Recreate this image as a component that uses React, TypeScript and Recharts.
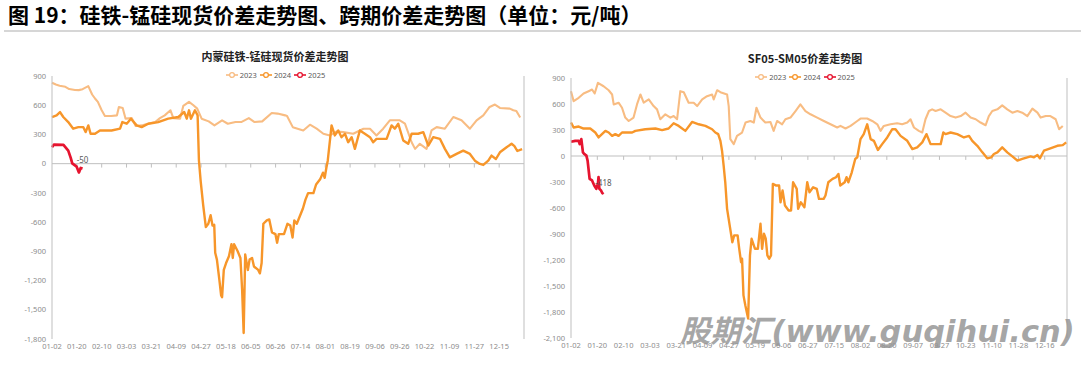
import React from 'react';
import { LineChart, Line, XAxis, YAxis, ReferenceLine, ReferenceDot, Legend } from 'recharts';

// ---------- shared ----------
const seriesNames = ['2023', '2024', '2025'];
const seriesColors = ['#F8BC82', '#F7962A', '#E6142F'];
const seriesWidths = [2.1, 2.4, 2.7];
const tickStep = 13;

// ---------- left: 内蒙硅铁-锰硅现货价差 ----------
const spotTitle = '内蒙硅铁-锰硅现货价差走势图';
const spotTickLabels = ['01-02', '01-20', '02-10', '03-03', '03-21', '04-09', '04-27', '05-18', '06-05', '06-26', '07-14', '08-01', '08-19', '09-06', '09-26', '10-22', '11-09', '11-27', '12-15'];
const spotYTicks = [900, 600, 300, 0, -300, -600, -900, -1200, -1500, -1800];

const spot2023: [number, number][] = [
  [0, 830], [2, 812], [4, 800], [7, 789], [9, 766], [12, 756], [14, 755], [16, 765], [19, 796], [21, 710], [22.5, 669], [24, 634], [26, 548], [27.7, 489], [31, 489], [34, 496], [35, 582], [37, 572], [38.5, 462], [41.7, 468], [43.8, 386], [47, 393], [50, 410], [54, 427], [56.5, 468], [59, 496], [62, 548], [63.5, 468], [67, 462], [68.7, 593], [71.7, 634], [74, 600], [76, 565], [78.3, 462], [82, 434], [85, 393], [89, 445], [92, 410], [96, 427], [99, 427], [103, 468], [106, 427], [110, 434], [115, 520], [118, 514], [122, 496], [123, 489], [126, 375], [131.5, 341], [135, 400], [138.5, 359], [142, 307], [145.4, 290], [149, 331], [152.4, 324], [157.6, 307], [163, 359], [166.4, 359], [169.8, 290], [173.3, 359], [176.8, 445], [182, 445], [184.7, 410], [188.2, 220], [190, 152], [192.5, 204], [196, 152], [198.6, 341], [201.3, 375], [205.6, 359], [210, 479], [214.3, 445], [218.7, 359], [222.2, 445], [225.7, 496], [229, 582], [231.8, 607], [234.4, 572], [239.6, 565], [241.4, 548], [243, 540], [245, 474],
];
const spot2024: [number, number][] = [
  [0, 479], [2.4, 496], [4.2, 530], [5.9, 479], [8.5, 427], [11.1, 359], [13.8, 375], [16.4, 375], [17.6, 324], [19, 393], [20.2, 307], [22.5, 307], [25.1, 341], [31.2, 341], [35.6, 359], [36.8, 427], [39.1, 410], [41.3, 462], [44.3, 393], [46.9, 375], [50.4, 410], [55.6, 427], [60.8, 462], [66.1, 479], [69.2, 530], [70.5, 462], [71.7, 548], [72.7, 462], [74.8, 548], [76.2, 496], [76.9, 30], [77.8, -179], [79.1, -424], [80.5, -651], [81.8, -617], [83, -529], [84, -635], [84.9, -628], [85.4, -915], [86.3, -985], [87.6, -1195], [88.5, -1353], [89, -1371], [89.9, -1091], [91.1, -1020], [92.6, -950], [93.9, -827], [94.6, -968], [95.3, -827], [97.1, -897], [98.6, -968], [99.5, -1300], [100.3, -1739], [101.1, -932], [102.5, -1091], [103.4, -985], [104.7, -968], [105.7, -1056], [107.9, -1091], [108.8, -1126], [109.7, -1020], [110.6, -617], [112.4, -582], [113.7, -572], [115.1, -705], [116.9, -723], [117.8, -811], [118.7, -723], [121.4, -723], [123.2, -617], [124.7, -635], [125.9, -758], [126.8, -582], [128.1, -617], [131.3, -460], [132.6, -372], [134, -302], [136.8, -302], [138.2, -214], [140.3, -161], [141.8, -92], [142.7, -145], [143.6, -39], [144.3, 31], [146.3, 393], [148, 290], [149.8, 341], [151.5, 272], [153.3, 307], [155, 220], [156.8, 272], [158.5, 152], [161.1, 341], [163.7, 307], [166.4, 272], [168.1, 220], [169.8, 255], [175.1, 255], [177.7, 393], [179.4, 359], [181.2, 410], [183.8, 238], [186.4, 204], [188.2, 307], [191.6, 307], [194.3, 324], [196.9, 186], [199.5, 272], [203, 255], [205.6, 152], [208.2, 65], [211.7, 100], [215.2, 134], [218.7, 100], [221.3, 31], [223.9, -3], [225.7, -13], [228.3, 31], [230, 83], [232.3, 48], [234.4, 117], [237.9, 169], [240.5, 204], [242, 180], [243.5, 130], [246, 150],
];
const spot2025: [number, number][] = [
  [0, 169], [1, 196], [6, 193], [8.5, 134], [9.8, 59], [10.6, 3], [12.9, -31], [14.1, -90], [15, -44], [16, -50],
];

// ---------- right: SF05-SM05 价差 ----------
const futTitle = 'SF05-SM05价差走势图';
const futTickLabels = ['01-02', '01-20', '02-10', '03-03', '03-21', '04-09', '04-27', '05-19', '06-06', '06-27', '07-15', '08-02', '08-20', '09-07', '09-27', '10-23', '11-10', '11-28', '12-16'];
const futYTicks = [900, 600, 300, 0, -300, -600, -900, -1200, -1500, -1800, -2100];

const fut2023: [number, number][] = [
  [0, 748], [1.3, 633], [3.8, 672], [6.2, 721], [8.7, 748], [10.4, 767], [11.7, 721], [13.3, 844], [16.1, 805], [18.6, 759], [20.3, 710], [21.1, 595], [23.5, 615], [25.2, 557], [26.8, 443], [28.5, 404], [30.9, 443], [32.6, 595], [34.3, 710], [35.9, 615], [38.4, 653], [40.8, 576], [42.5, 538], [44.1, 424], [46.6, 481], [49.1, 443], [50.7, 461], [52.4, 424], [54, 748], [55.7, 736], [58.1, 615], [60.6, 615], [62.3, 576], [64.8, 653], [67.2, 690], [69.7, 710], [70.5, 653], [72.2, 759], [73.8, 736], [77.1, 710], [77.9, 576], [78.7, 195], [80.4, 137], [82, 232], [84.5, 271], [86.2, 386], [88.6, 404], [90.3, 386], [91.6, 557], [93.6, 443], [96, 386], [98.5, 393], [100.1, 290], [101.8, 404], [104.3, 366], [105.9, 424], [108.4, 443], [110.9, 519], [113.3, 595], [115.8, 519], [118.3, 481], [121.6, 443], [124.9, 404], [128.2, 366], [131.5, 329], [133.1, 347], [135.6, 317], [138.1, 347], [141.4, 404], [143, 432], [146.3, 432], [148.8, 404], [151.3, 366], [152.9, 290], [154.5, 347], [157.8, 366], [161.1, 378], [163.6, 366], [166.1, 386], [167.7, 424], [169.4, 329], [171.8, 290], [173.5, 271], [175.1, 424], [176.8, 519], [178.4, 538], [180.1, 519], [182.6, 538], [185, 500], [187.5, 461], [190, 443], [192.5, 461], [194.9, 500], [197.4, 443], [199.9, 424], [202.3, 386], [204.8, 355], [206.4, 461], [208.1, 519], [210.6, 538], [213, 584], [215.5, 538], [218, 500], [220.5, 519], [222.9, 500], [225.4, 461], [227.9, 546], [230.4, 500], [232, 443], [234.5, 461], [236.8, 461], [239.4, 424], [241.1, 309], [242.9, 347],
];
const fut2024: [number, number][] = [
  [0, 386], [1.3, 329], [3.8, 340], [6.2, 317], [9.5, 317], [12, 271], [13.6, 214], [15.3, 252], [17, 290], [18.6, 271], [20.3, 232], [21.9, 252], [23.5, 232], [25.2, 271], [30.2, 271], [31.8, 290], [36.7, 309], [41.7, 317], [45, 298], [48.2, 317], [50.7, 378], [53.2, 347], [56.5, 290], [59.8, 393], [63.1, 366], [66.4, 347], [69.7, 309], [71.3, 271], [72.7, 252], [73.8, 175], [74.6, 61], [75.4, -111], [76.2, -303], [77.1, -610], [78.4, -804], [79.7, -995], [80.6, -916], [82.3, -916], [83.1, -1071], [84, -1225], [84.5, -1185], [85.2, -1608], [86.1, -1722], [87.5, -1876], [88.4, -1147], [89.2, -955], [90.9, -1071], [92.3, -1071], [93, -916], [93.6, -782], [94.4, -1071], [95.3, -897], [96.2, -955], [97, -1147], [97.9, -1185], [98.8, -1147], [99.7, -322], [101.4, -341], [102.8, -341], [103.5, -534], [104.5, -398], [105.7, -572], [107.5, -629], [108.7, -629], [109.7, -303], [111.5, -380], [112.2, -610], [113.5, -534], [115.3, -591], [116.7, -303], [117.8, -418], [119.6, -361], [121.4, -380], [122.5, -495], [124.8, -495], [125.7, -456], [127.1, -303], [129.2, -264], [130.9, -245], [132.1, -207], [133, -341], [135.2, -303], [136.1, -245], [137, -303], [138.7, -188], [140.4, -34], [141.4, -15], [143, 195], [144.6, 252], [146.3, 366], [148, 195], [149.6, 175], [151.6, 69], [153.7, 137], [156.2, 214], [158.7, 309], [160.3, 309], [162.8, 232], [166.1, 175], [168.6, 80], [171, 100], [173.5, 157], [175.6, 252], [177.6, 137], [180.1, 137], [182.6, 137], [183.9, 271], [185, 252], [187.5, 271], [190.8, 252], [194.1, 214], [196.6, 232], [198.2, 175], [200.7, 118], [203.2, 42], [205.6, -27], [207.6, -15], [208.9, 23], [210.6, 42], [213, 100], [215.5, 42], [218, -4], [220.5, -53], [222.9, -34], [225.4, -15], [227, -4], [228.7, -15], [230.4, 11], [231.6, -27], [233.6, 61], [236.8, 88], [240.2, 118], [242.9, 126], [244.6, 157],
];
const fut2025: [number, number][] = [
  [0, 164], [2.1, 175], [3.8, 175], [4.3, 137], [5.1, 195], [5.9, 42], [6.6, 23], [7.6, 4], [8.2, -53], [9.2, -263], [10.4, -282], [11.5, -340], [12.5, -378], [13.3, -320], [13.6, -244], [14, -378], [14.8, -397], [15.5, -430], [16, -418],
];

const headerText = '图 19：硅铁-锰硅现货价差走势图、跨期价差走势图（单位：元/吨）';
const watermarkText = '股期汇(www.guqihui.cn)';

const AXIS_GRAY = '#BFBFBF';
const TICK_GRAY = '#8C8C8C';
const fmt = new Intl.NumberFormat('en-US');
const toPts = (s: [number, number][]) => s.map(([x, y]) => ({ x, y }));

function LegendBox() {
  return (
    <div style={{ display: 'flex', justifyContent: 'center', alignItems: 'center', height: 10, fontFamily: '"Noto Sans", sans-serif', fontSize: 7.5, color: '#595959', lineHeight: '10px' }}>
      {seriesNames.map((n, i) => (
        <div key={n} style={{ display: 'flex', alignItems: 'center', marginRight: i < 2 ? 3 : 0 }}>
          <svg width={12} height={8} style={{ display: 'block' }}>
            <line x1={0} y1={4} x2={12} y2={4} stroke={seriesColors[i]} strokeWidth={1.6} />
            <circle cx={6} cy={4} r={2.4} fill="#fff" stroke={seriesColors[i]} strokeWidth={1.3} />
          </svg>
          <span style={{ marginLeft: 2 }}>{n}</span>
        </div>
      ))}
    </div>
  );
}

type PanelProps = {
  left: number; width: number; height: number;
  margin: { top: number; right: number; bottom: number; left: number };
  yAxisWidth: number; xMax: number; yTicks: number[]; tickLabels: string[];
  series: [number, number][][]; tickDepth: number;
  legendLeft: number; legendTop: number;
};

function Panel(p: PanelProps) {
  const xTicks = p.tickLabels.map((_, i) => i * tickStep);
  const last = p.series[2][p.series[2].length - 1];
  const yMin = p.yTicks[p.yTicks.length - 1];
  const yMax = p.yTicks[0];
  return (
    <div style={{ position: 'absolute', left: p.left, top: 0 }}>
      <LineChart width={p.width} height={p.height} margin={p.margin}>
        <XAxis type="number" dataKey="x" domain={[0, p.xMax]} ticks={xTicks} interval={0}
          tickFormatter={(v: number) => p.tickLabels[Math.round(v / tickStep)] ?? ''}
          axisLine={false} tickLine={false} tickSize={3} tickMargin={2} height={20}
          tick={{ fill: TICK_GRAY, fontSize: 7.5, fontFamily: '"Noto Sans", sans-serif' }} allowDuplicatedCategory={false} />
        <YAxis type="number" domain={[yMin, yMax]} ticks={p.yTicks} interval={0} width={p.yAxisWidth}
          tickFormatter={(v: number) => fmt.format(v)}
          axisLine={{ stroke: AXIS_GRAY }} tickLine={false} tickSize={4} tickMargin={2}
          tick={{ fill: TICK_GRAY, fontSize: 7.5, fontFamily: '"Noto Sans", sans-serif' }} />
        <ReferenceLine y={0} stroke={AXIS_GRAY} strokeWidth={1} />
        <ReferenceLine x={p.xMax} stroke={AXIS_GRAY} strokeWidth={1} />
        {xTicks.slice(1).map((t) => (
          <ReferenceLine key={t} segment={[{ x: t, y: 0 }, { x: t, y: -p.tickDepth }]} stroke={AXIS_GRAY} strokeWidth={1} />
        ))}
        <Legend verticalAlign="middle" layout="horizontal" content={() => <LegendBox />}
          wrapperStyle={{ left: p.legendLeft, top: p.legendTop, width: 200, height: 10 }} />
        {p.series.map((s, i) => (
          <Line key={seriesNames[i]} name={seriesNames[i]} data={toPts(s)} dataKey="y" type="linear"
            stroke={seriesColors[i]} strokeWidth={seriesWidths[i]} dot={false} activeDot={false}
            isAnimationActive={false} strokeLinejoin="round" />
        ))}
        <ReferenceDot x={last[0]} y={last[1]} r={1} fill="none" stroke="none"
          label={{ value: fmt.format(last[1]), position: 'top', offset: 5, fill: '#595959', fontSize: 8, fontFamily: '"Noto Sans", sans-serif' }} />
      </LineChart>
    </div>
  );
}

export default function App() {
  return (
    <div style={{ position: 'absolute', left: 0, top: 0, width: 1081, height: 366, background: '#fff', overflow: 'hidden' }}>
      <div style={{ position: 'absolute', left: 8, top: 1, fontFamily: '"Noto Sans CJK SC", sans-serif', fontWeight: 700, fontSize: 21, lineHeight: '26px', color: '#000', whiteSpace: 'nowrap' }}>
        {headerText}
      </div>
      <div style={{ position: 'absolute', left: 4, top: 30, width: 1077, height: 2, background: '#D6D6D6' }} />
      <Panel left={0} width={540} height={366} margin={{ top: 76, right: 16, bottom: 7, left: 8 }}
        yAxisWidth={44} xMax={247} yTicks={spotYTicks} tickLabels={spotTickLabels}
        series={[spot2023, spot2024, spot2025]} tickDepth={40} legendLeft={175.5} legendTop={70} />
      <Panel left={540} width={541} height={366} margin={{ top: 78, right: 14, bottom: 8, left: 0 }}
        yAxisWidth={31} xMax={245} yTicks={futYTicks} tickLabels={futTickLabels}
        series={[fut2023, fut2024, fut2025]} tickDepth={45} legendLeft={165} legendTop={72} />
      <div style={{ position: 'absolute', left: 175, top: 48, width: 200, textAlign: 'center', fontFamily: '"Noto Sans CJK SC", sans-serif', fontWeight: 700, fontSize: 11, lineHeight: '16px', color: '#222' }}>
        {spotTitle}
      </div>
      <div style={{ position: 'absolute', left: 705, top: 50, width: 200, textAlign: 'center', fontFamily: '"Noto Sans CJK SC", sans-serif', fontWeight: 700, fontSize: 11, lineHeight: '16px', color: '#222' }}>
        {futTitle}
      </div>
      <div style={{ position: 'absolute', left: 680, top: 313, fontFamily: '"DejaVu Sans", "Noto Sans CJK SC", sans-serif', fontWeight: 700, fontStyle: 'italic', fontSize: 30.5, lineHeight: '38px', color: 'rgba(150,150,150,0.85)', whiteSpace: 'nowrap' }}>
        {watermarkText}
      </div>
    </div>
  );
}
